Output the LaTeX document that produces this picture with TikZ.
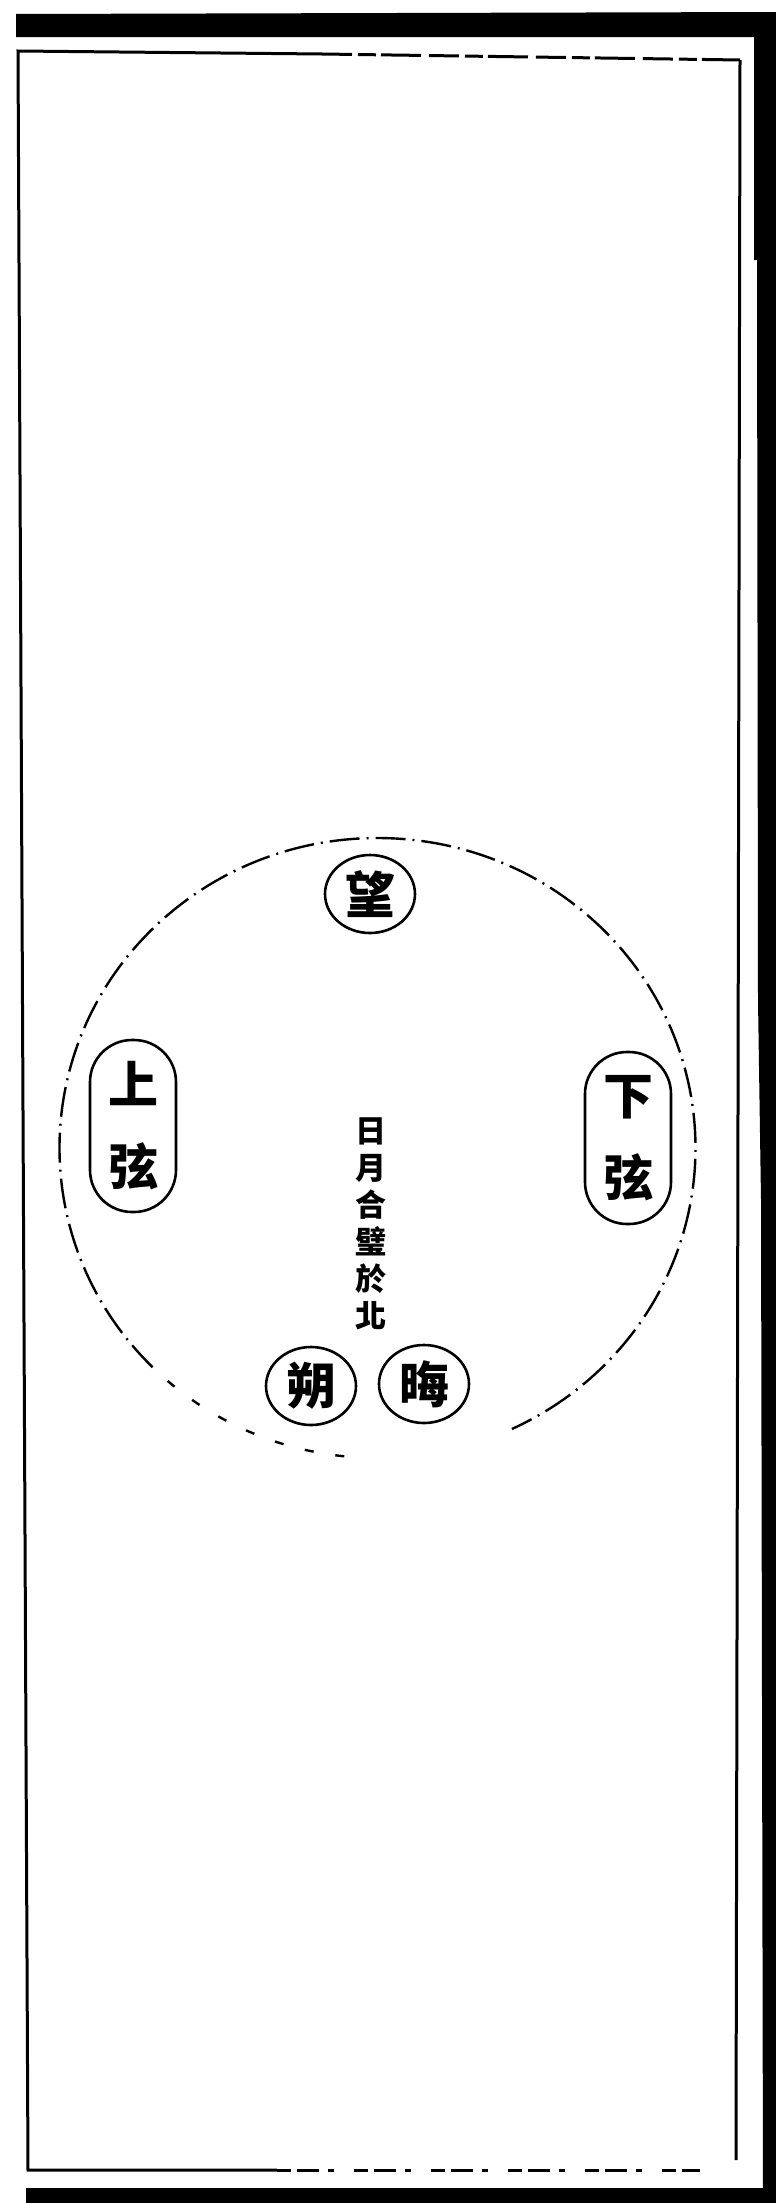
\documentclass[tikz,border=0pt]{standalone}
\usepackage{fontspec}
\newfontfamily\cjk{Noto Sans CJK TC}
\usetikzlibrary{shapes.geometric}
\begin{document}
\begin{tikzpicture}[x=1pt,y=-1pt,
  band/.style={fill=black, draw=none},
  frameline/.style={line width=3pt, black},
  framebroken/.style={line width=3pt, black, dash pattern=on 30pt off 6pt on 18pt off 5pt on 40pt off 8pt},
  moon/.style={draw, ellipse, line width=2.6pt, minimum width=90pt, minimum height=78pt, inner sep=0pt, font=\cjk\bfseries\fontsize{50}{50}\selectfont},
  pill/.style={draw, rounded corners=42pt, line width=2.6pt, minimum width=86pt, minimum height=172pt, inner sep=0pt, align=center, font=\cjk\bfseries\fontsize{50}{82}\selectfont},
  orbitline/.style={line width=2.4pt, dash pattern=on 30pt off 7pt on 2pt off 7pt},
  orbitsparse/.style={line width=2.4pt, dash pattern=on 9pt off 22pt},
  caption/.style={align=center, inner sep=0pt, font=\cjk\bfseries\fontsize{31}{37}\selectfont}
]
\useasboundingbox (0,0) rectangle (776,2203);
% outer thick bands
\fill[band] (16,14) -- (776,12) -- (776,37) -- (16,37) -- cycle;
\fill[band] (754,14) -- (776,14) -- (776,2203) -- (763,2203) -- (761,1200) -- (758,1000) -- (757,260) -- (754,260) -- cycle;
\fill[band] (26,2188) -- (776,2188) -- (776,2203) -- (26,2203) -- cycle;
% inner frame
\coordinate (tl) at (18,51);
\coordinate (tm) at (322,54);
\coordinate (tr) at (740,60);
\coordinate (br) at (736,2160);
\coordinate (bl) at (28,2170);
\coordinate (bm) at (277,2170);
\coordinate (be) at (700,2170);
\draw[frameline] (tm) -- (tl) -- (bl) -- (bm);
\draw[framebroken] (tm) -- (tr);
\draw[frameline] (tr) -- (br);
\draw[line width=3pt, dash pattern=on 14pt off 6pt on 22pt off 9pt on 6pt off 20pt] (bm) -- (be);
% orbit
\coordinate (oc) at (377.5,1148);
\draw[orbitline] (oc) ++(135:318 and 310) arc[start angle=135, end angle=425, x radius=318, y radius=310];
\draw[orbitsparse] (oc) ++(96:318 and 310) arc[start angle=96, end angle=135, x radius=318, y radius=310];
% phases
\node[moon] (wang) at (370,894) {望};
\node[pill] (shangxian) at (133,1126) {上\\弦};
\node[pill] (xiaxian) at (628,1138) {下\\弦};
\node[moon] (shuo) at (311,1386) {朔};
\node[moon] (hui) at (424,1384) {晦};
\node[caption] (hebi) at (371,1224) {日\\月\\合\\璧\\於\\北};
\end{tikzpicture}
\end{document}
